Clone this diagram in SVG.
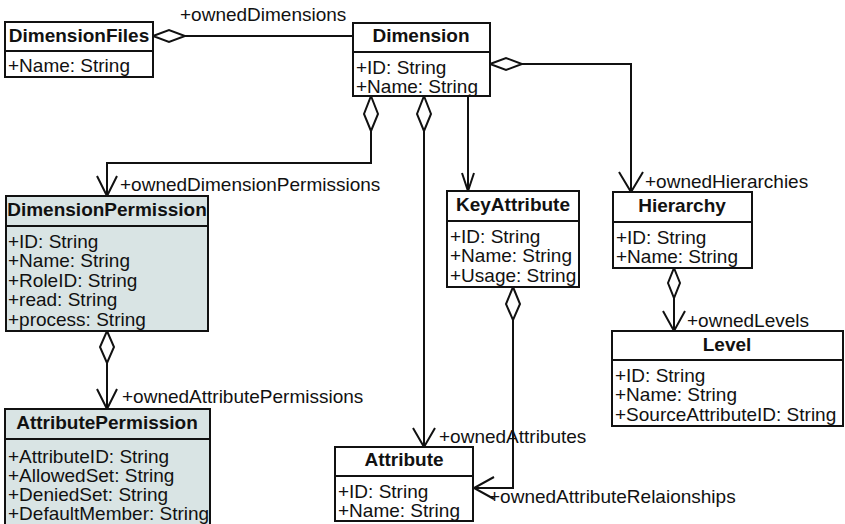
<svg xmlns="http://www.w3.org/2000/svg" width="845" height="524" viewBox="0 0 845 524">
  <style>
    .box { fill: #ffffff; stroke: #111111; stroke-width: 2; }
    .tinted { fill: #d9e4e4; }
    .div { stroke: #111111; stroke-width: 2; }
    .title { font-family: "Liberation Sans", Arial, sans-serif; font-size: 19px; font-weight: bold; fill: #111111; text-anchor: middle; }
    .attr { font-family: "Liberation Sans", Arial, sans-serif; font-size: 19px; fill: #111111; }
    .role { font-family: "Liberation Sans", Arial, sans-serif; font-size: 19px; fill: #111111; }
    .line { fill: none; stroke: #111111; stroke-width: 2; }
    .diamond { fill: #ffffff; stroke: #111111; stroke-width: 2; stroke-linejoin: miter; }
    .head { fill: none; stroke: #111111; stroke-width: 2; }
  </style>

  <rect width="845" height="524" fill="#ffffff"/>

  <!-- connectors -->
  <g id="connectors">
    <!-- DimensionFiles <>— Dimension -->
    <path class="line" d="M185 36 H353"/>
    <polygon class="diamond" points="153,36 169,30 185,36 169,42"/>
    <text class="role" x="180" y="21">+ownedDimensions</text>

    <!-- Dimension <>— Hierarchy -->
    <path class="line" d="M522 64 H631 V192"/>
    <polygon class="diamond" points="490,64 506,58 522,64 506,70"/>
    <path class="head" d="M619 172 L631 192 L643 172"/>
    <text class="role" x="645" y="188">+ownedHierarchies</text>

    <!-- Dimension <>— DimensionPermission -->
    <path class="line" d="M371 131 V163 H107 V196"/>
    <polygon class="diamond" points="371,96 378,114 371,131 364,114"/>
    <path class="head" d="M97 176 L107 196 L117 176"/>
    <text class="role" x="120" y="191">+ownedDimensionPermissions</text>

    <!-- Dimension <>— Attribute -->
    <path class="line" d="M424 131 V447"/>
    <polygon class="diamond" points="424,96 431,114 424,131 417,114"/>
    <path class="head" d="M413 428 L424 447 L435 428"/>
    <text class="role" x="439" y="443">+ownedAttributes</text>

    <!-- Dimension —> KeyAttribute -->
    <path class="line" d="M468 96 V191"/>
    <path class="head" d="M462 173 L468 191 L474 173"/>

    <!-- KeyAttribute <>— Attribute -->
    <path class="line" d="M513 320 V488 H474"/>
    <polygon class="diamond" points="513,287 520,304 513,320 506,304"/>
    <path class="head" d="M494 477 L474 488 L494 499"/>
    <text class="role" x="489" y="503">+ownedAttributeRelaionships</text>

    <!-- Hierarchy <>— Level -->
    <path class="line" d="M674 298 V331"/>
    <polygon class="diamond" points="674,268 680,283 674,298 668,283"/>
    <path class="head" d="M663 311 L674 331 L685 311"/>
    <text class="role" x="687" y="327">+ownedLevels</text>

    <!-- DimensionPermission <>— AttributePermission -->
    <path class="line" d="M107 363 V409"/>
    <polygon class="diamond" points="107,331 114,347 107,363 100,347"/>
    <path class="head" d="M97 389 L107 409 L117 389"/>
    <text class="role" x="122" y="403">+ownedAttributePermissions</text>
  </g>

  <!-- classes -->
  <g id="DimensionFiles">
    <rect class="box" x="5" y="22" width="148" height="55"/>
    <line class="div" x1="5" y1="51" x2="153" y2="51"/>
    <text class="title" x="79" y="42">DimensionFiles</text>
    <text class="attr" x="8" y="72">+Name: String</text>
  </g>

  <g id="Dimension">
    <rect class="box" x="353" y="23" width="137" height="73"/>
    <line class="div" x1="353" y1="52" x2="490" y2="52"/>
    <text class="title" x="421" y="42">Dimension</text>
    <text class="attr" x="356" y="74">+ID: String</text>
    <text class="attr" x="356" y="93">+Name: String</text>
  </g>

  <g id="DimensionPermission">
    <rect class="box tinted" x="6" y="196" width="202" height="135"/>
    <line class="div" x1="6" y1="226" x2="208" y2="226"/>
    <text class="title" x="107" y="216">DimensionPermission</text>
    <text class="attr" x="8" y="248">+ID: String</text>
    <text class="attr" x="8" y="267">+Name: String</text>
    <text class="attr" x="8" y="287">+RoleID: String</text>
    <text class="attr" x="8" y="306">+read: String</text>
    <text class="attr" x="8" y="326">+process: String</text>
  </g>

  <g id="AttributePermission">
    <rect class="box tinted" x="5" y="409" width="205" height="125"/>
    <line class="div" x1="5" y1="439" x2="210" y2="439"/>
    <text class="title" x="107" y="429">AttributePermission</text>
    <text class="attr" x="8" y="463">+AttributeID: String</text>
    <text class="attr" x="8" y="482">+AllowedSet: String</text>
    <text class="attr" x="8" y="501">+DeniedSet: String</text>
    <text class="attr" x="8" y="520">+DefaultMember: String</text>
  </g>

  <g id="KeyAttribute">
    <rect class="box" x="447" y="191" width="132" height="96"/>
    <line class="div" x1="447" y1="221" x2="579" y2="221"/>
    <text class="title" x="513" y="211">KeyAttribute</text>
    <text class="attr" x="450" y="243">+ID: String</text>
    <text class="attr" x="450" y="262">+Name: String</text>
    <text class="attr" x="450" y="282">+Usage: String</text>
  </g>

  <g id="Hierarchy">
    <rect class="box" x="613" y="192" width="139" height="76"/>
    <line class="div" x1="613" y1="222" x2="752" y2="222"/>
    <text class="title" x="682" y="212">Hierarchy</text>
    <text class="attr" x="616" y="244">+ID: String</text>
    <text class="attr" x="616" y="263">+Name: String</text>
  </g>

  <g id="Level">
    <rect class="box" x="612" y="331" width="231" height="95"/>
    <line class="div" x1="612" y1="360" x2="843" y2="360"/>
    <text class="title" x="727" y="351">Level</text>
    <text class="attr" x="615" y="382">+ID: String</text>
    <text class="attr" x="615" y="401">+Name: String</text>
    <text class="attr" x="615" y="421">+SourceAttributeID: String</text>
  </g>

  <g id="Attribute">
    <rect class="box" x="335" y="447" width="138" height="74"/>
    <line class="div" x1="335" y1="476" x2="473" y2="476"/>
    <text class="title" x="404" y="466">Attribute</text>
    <text class="attr" x="338" y="498">+ID: String</text>
    <text class="attr" x="338" y="517">+Name: String</text>
  </g>
</svg>
